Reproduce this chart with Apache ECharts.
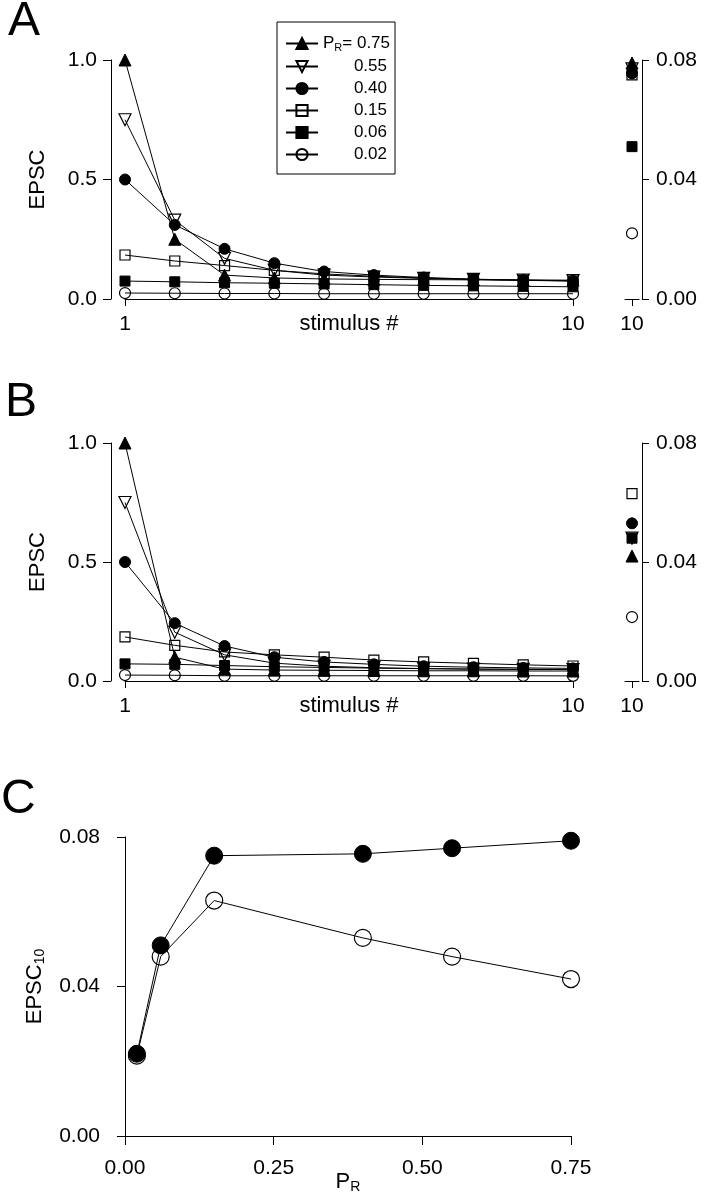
<!DOCTYPE html>
<html>
<head>
<meta charset="utf-8">
<script src="https://cdn.jsdelivr.net/npm/echarts@6/dist/echarts.min.js"></script>
<style>
html,body{margin:0;padding:0;background:#fff;}
#chart{width:708px;height:1199px;}
</style>
</head>
<body>
<div id="chart"></div>
<script>
// ---------- data ----------
const stimulus = [1, 2, 3, 4, 5, 6, 7, 8, 9, 10];
const prNames = ['0.75', '0.55', '0.40', '0.15', '0.06', '0.02'];

// Panel A (normalised EPSC vs stimulus #)
const A_075 = [1.0, 0.25, 0.10, 0.088, 0.084, 0.082, 0.081, 0.080, 0.079, 0.079];
const A_055 = [0.75, 0.33, 0.17, 0.12, 0.10, 0.092, 0.086, 0.082, 0.079, 0.077];
const A_040 = [0.50, 0.31, 0.21, 0.15, 0.115, 0.10, 0.09, 0.083, 0.079, 0.0755];
const A_015 = [0.184, 0.159, 0.14, 0.12, 0.105, 0.095, 0.088, 0.082, 0.078, 0.075];
const A_006 = [0.075, 0.072, 0.068, 0.066, 0.063, 0.060, 0.057, 0.055, 0.053, 0.051];
const A_002 = [0.025, 0.024, 0.023, 0.023, 0.022, 0.022, 0.022, 0.022, 0.022, 0.022];

// Panel B
const B_075 = [1.0, 0.10, 0.05, 0.046, 0.045, 0.044, 0.043, 0.043, 0.042, 0.042];
const B_055 = [0.75, 0.205, 0.11, 0.075, 0.062, 0.056, 0.052, 0.050, 0.049, 0.048];
const B_040 = [0.50, 0.243, 0.147, 0.10, 0.08, 0.07, 0.062, 0.058, 0.055, 0.053];
const B_015 = [0.185, 0.15, 0.122, 0.11, 0.10, 0.088, 0.08, 0.074, 0.068, 0.063];
const B_006 = [0.072, 0.070, 0.065, 0.060, 0.057, 0.054, 0.052, 0.050, 0.049, 0.048];
const B_002 = [0.025, 0.024, 0.022, 0.022, 0.022, 0.022, 0.022, 0.022, 0.022, 0.0215];

// Panel C (EPSC at stimulus 10 vs P_R)
const prValues = [0.02, 0.06, 0.15, 0.40, 0.55, 0.75];
const epsc10_A = [0.022, 0.051, 0.075, 0.0755, 0.077, 0.079];   // filled
const epsc10_B = [0.0215, 0.048, 0.063, 0.053, 0.048, 0.042];   // open

// tick labels
const yTicksMain = ['0.0', '0.5', '1.0'];
const insetCategory = ['10'];

// ---------- styling helpers ----------
const FONT = '"Liberation Sans", Arial, Helvetica, sans-serif';
const BLACK = '#000';

// symbol per series (order = prNames)
const symbolDefs = [
  { symbol: 'triangle', rotate: 0, filled: true },
  { symbol: 'triangle', rotate: 180, filled: false },
  { symbol: 'circle', rotate: 0, filled: true },
  { symbol: 'rect', rotate: 0, filled: false },
  { symbol: 'rect', rotate: 0, filled: true },
  { symbol: 'circle', rotate: 0, filled: false }
];

function itemStyleFor(filled) {
  return filled
    ? { color: BLACK, borderColor: BLACK, borderWidth: 1 }
    : { color: 'rgba(255,255,255,0)', borderColor: BLACK, borderWidth: 1.2 };
}

function symSize(d) { return d.symbol === 'triangle' ? 12 : (d.symbol === 'rect' ? 10 : 11); }

function lineSeries(name, vals, idx, xi, yi) {
  const d = symbolDefs[idx];
  return {
    type: 'line', name: name,
    xAxisIndex: xi, yAxisIndex: yi,
    data: stimulus.map((s, i) => [s, vals[i]]),
    symbol: d.symbol, symbolRotate: d.rotate, symbolSize: symSize(d),
    showAllSymbol: true,
    itemStyle: itemStyleFor(d.filled),
    lineStyle: { color: BLACK, width: 1 },
    emphasis: { disabled: true },
    z: 10 - idx
  };
}

function insetSeries(name, value, idx, xi, yi) {
  const d = symbolDefs[idx];
  return {
    type: 'line', name: name,
    xAxisIndex: xi, yAxisIndex: yi,
    data: [value],
    symbol: d.symbol, symbolRotate: d.rotate, symbolSize: symSize(d),
    itemStyle: itemStyleFor(d.filled),
    lineStyle: { color: BLACK, width: 1 },
    emphasis: { disabled: true },
    z: 10 - idx
  };
}

const axisLineStyle = { show: true, lineStyle: { color: BLACK, width: 1 } };
const tickStyle = (len) => ({ show: true, length: len, inside: false, lineStyle: { color: BLACK, width: 1 } });
const labelStyle = (margin, fmt) => ({ show: true, color: BLACK, fontFamily: FONT, fontSize: 21, margin: margin, formatter: fmt });

// grids
const grids = [
  { left: 125, top: 60, width: 448, height: 239 },   // A main
  { left: 625, top: 60, width: 14, height: 239 },    // A inset
  { left: 125, top: 443, width: 448, height: 238 },  // B main
  { left: 625, top: 443, width: 14, height: 238 },   // B inset
  { left: 125, top: 837, width: 446, height: 299 }   // C
].map(g => Object.assign({ containLabel: false, outerBoundsMode: 'none' }, g));

function mainX(gi) {
  return {
    type: 'value', gridIndex: gi, min: 1, max: 10, interval: 9,
    offset: 9,
    axisLine: axisLineStyle, axisTick: tickStyle(7), splitLine: { show: false },
    axisLabel: labelStyle(6, v => String(v)),
    name: 'stimulus #', nameLocation: 'middle', nameGap: 5, nameMoveOverlap: false,
    nameTextStyle: { color: BLACK, fontFamily: FONT, fontSize: 22, verticalAlign: 'top' }
  };
}
function mainY(gi) {
  return {
    type: 'value', gridIndex: gi, min: 0, max: 1, interval: 0.5,
    offset: 14,
    axisLine: axisLineStyle, axisTick: tickStyle(8), splitLine: { show: false },
    axisLabel: labelStyle(14, v => yTicksMain[Math.round(v / 0.5)]),
    name: 'EPSC', nameLocation: 'middle', nameGap: 62,
    nameTextStyle: { color: BLACK, fontFamily: FONT, fontSize: 22 }
  };
}
function insetX(gi) {
  return {
    type: 'category', gridIndex: gi, data: insetCategory, offset: 9,
    axisLine: axisLineStyle, axisTick: Object.assign(tickStyle(7), { alignWithLabel: true }),
    splitLine: { show: false },
    axisLabel: labelStyle(6)
  };
}
function insetY(gi) {
  return {
    type: 'value', gridIndex: gi, min: 0, max: 0.08, interval: 0.04, position: 'right',
    offset: 3,
    axisLine: axisLineStyle, axisTick: tickStyle(7), splitLine: { show: false },
    axisLabel: labelStyle(14, v => v.toFixed(2))
  };
}

const xAxes = [mainX(0), insetX(1), mainX(2), insetX(3), {
  type: 'value', gridIndex: 4, min: 0, max: 0.75, interval: 0.25, offset: 2,
  axisLine: axisLineStyle, axisTick: tickStyle(9), splitLine: { show: false },
  axisLabel: labelStyle(20, v => v.toFixed(2)),
  name: '{a|P}{b|R}', nameLocation: 'middle', nameGap: 32, nameMoveOverlap: false,
  nameTextStyle: {
    color: BLACK, fontFamily: FONT, verticalAlign: 'top',
    rich: {
      a: { fontFamily: FONT, fontSize: 22, color: BLACK },
      b: { fontFamily: FONT, fontSize: 14, color: BLACK, padding: [10, 0, 0, 0] }
    }
  }
}];
const yAxes = [mainY(0), insetY(1), mainY(2), insetY(3), {
  type: 'value', gridIndex: 4, min: 0, max: 0.08, interval: 0.04, offset: 10,
  axisLine: axisLineStyle, axisTick: tickStyle(8), splitLine: { show: false },
  axisLabel: labelStyle(15, v => v.toFixed(2)),
  name: '{a|EPSC}{b|10}', nameLocation: 'middle', nameGap: 68,
  nameTextStyle: {
    color: BLACK, fontFamily: FONT,
    rich: {
      a: { fontFamily: FONT, fontSize: 22, color: BLACK },
      b: { fontFamily: FONT, fontSize: 14, color: BLACK, padding: [10, 0, 0, 0] }
    }
  }
}];

const seriesA = [A_075, A_055, A_040, A_015, A_006, A_002];
const seriesB = [B_075, B_055, B_040, B_015, B_006, B_002];
// index in prValues for each legend name
const prIndex = prNames.map(n => prValues.indexOf(parseFloat(n)));

const series = [];
prNames.forEach((n, i) => series.push(lineSeries(n, seriesA[i], i, 0, 0)));
prNames.forEach((n, i) => series.push(insetSeries(n, epsc10_A[prIndex[i]], i, 1, 1)));
prNames.forEach((n, i) => series.push(lineSeries(n, seriesB[i], i, 2, 2)));
prNames.forEach((n, i) => series.push(insetSeries(n, epsc10_B[prIndex[i]], i, 3, 3)));
series.push({
  type: 'line', name: 'open', xAxisIndex: 4, yAxisIndex: 4,
  data: prValues.map((p, i) => [p, epsc10_B[i]]),
  symbol: 'circle', symbolSize: 17, showAllSymbol: true,
  itemStyle: itemStyleFor(false), lineStyle: { color: BLACK, width: 1 },
  emphasis: { disabled: true }, z: 5
});
series.push({
  type: 'line', name: 'filled', xAxisIndex: 4, yAxisIndex: 4,
  data: prValues.map((p, i) => [p, epsc10_A[i]]),
  symbol: 'circle', symbolSize: 17, showAllSymbol: true,
  itemStyle: itemStyleFor(true), lineStyle: { color: BLACK, width: 1 },
  emphasis: { disabled: true }, z: 6
});

const titleStyle = { color: BLACK, fontFamily: FONT, fontSize: 48, fontWeight: 'normal' };

const option = {
  animation: false,
  backgroundColor: '#fff',
  title: [
    { text: 'A', left: 8, top: -2, padding: 0, textStyle: titleStyle },
    { text: 'B', left: 5, top: 379, padding: 0, textStyle: titleStyle },
    { text: 'C', left: 1, top: 776, padding: 0, textStyle: titleStyle }
  ],
  legend: {
    show: true, orient: 'vertical', left: 277, top: 22,
    data: prNames, selectedMode: false,
    borderColor: BLACK, borderWidth: 1, padding: [13, 5, 11, 8],
    itemWidth: 32, itemHeight: 14, itemGap: 5,
    formatter: function (name) {
      if (name === '0.75') return '{p|P}{s|R}{p|= 0.75}';
      return '{n|' + name + '}';
    },
    textStyle: {
      color: BLACK, fontFamily: FONT, fontSize: 17,
      rich: {
        p: { fontFamily: FONT, fontSize: 17, color: BLACK },
        s: { fontFamily: FONT, fontSize: 11, color: BLACK, padding: [8, 0, 0, 0] },
        n: { fontFamily: FONT, fontSize: 17, color: BLACK, width: 64, align: 'right' }
      }
    }
  },
  grid: grids,
  xAxis: xAxes,
  yAxis: yAxes,
  series: series
};

const chart = echarts.init(document.getElementById('chart'), null, { renderer: 'canvas' });
chart.setOption(option);
</script>
</body>
</html>
